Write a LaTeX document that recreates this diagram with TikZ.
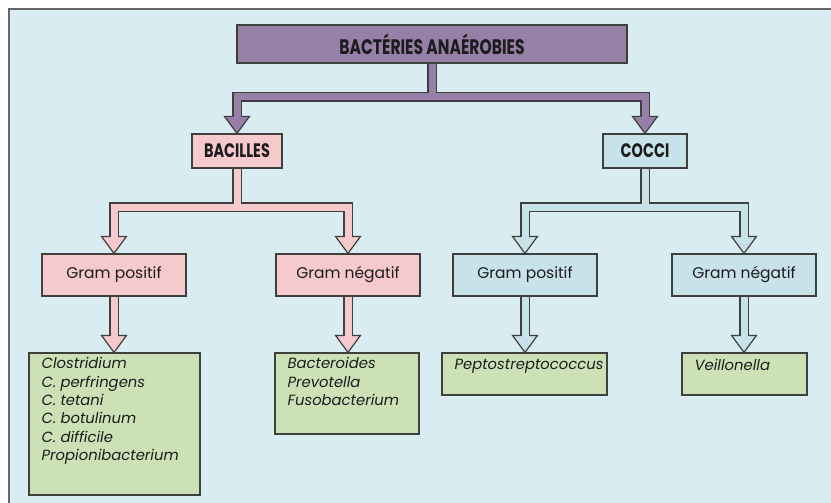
\documentclass[tikz,border=0pt]{standalone}
\usepackage{fontspec}
\setmainfont{Poppins}
\newfontfamily\headfont{Poppins}[FakeStretch=0.74]
\usetikzlibrary{calc}
\definecolor{bgc}{RGB}{216,236,241}
\definecolor{pur}{RGB}{152,127,167}
\definecolor{pnk}{RGB}{246,202,204}
\definecolor{blu}{RGB}{200,226,234}
\definecolor{grn}{RGB}{204,225,182}
\definecolor{edge}{RGB}{62,64,62}
\definecolor{ink}{RGB}{28,28,30}
\pgfdeclarelayer{back}
\pgfsetlayers{back,main}
\newcommand\myhead[2]{%
  \filldraw[fill=#1, draw=edge, line width=1.2pt, line join=miter] (#2) -- ++(-12.5,-17) -- ++(25,0) -- cycle;}
\begin{document}
\begin{tikzpicture}[x=1pt,y=-1pt,
  box/.style={draw=edge, line width=1.2pt, inner sep=0pt, text=ink},
  head/.style={box, font=\fontsize{19.5}{21}\headfont\bfseries},
  gram/.style={box, minimum width=144pt, minimum height=42pt, font=\fontsize{15.5}{18}\selectfont},
  leaf/.style={box, fill=grn},
  leaftext/.style={anchor=north west, align=left, inner sep=0pt, text=ink, font=\fontsize{14.8}{18.3}\selectfont\itshape},
  outl/.style={draw=edge, line width=9.5pt, line join=miter},
  inl/.style={draw=#1, line width=7pt, line join=miter}]
% frame
\useasboundingbox (0,0) rectangle (831,503);
% nodes
\node[head, fill=pur, minimum width=390pt, minimum height=38pt, font=\fontsize{21}{23}\headfont\bfseries] (root) at (432,44) {BACTÉRIES ANAÉROBIES};
\node[head, fill=pnk, minimum width=90pt, minimum height=34pt] (bac) at (237,151) {BACILLES};
\node[head, fill=blu, minimum width=84pt, minimum height=34pt] (coc) at (645,151) {COCCI};
\node[gram, fill=pnk] (bgp) at (114,275) {Gram positif};
\node[gram, fill=pnk] (bgn) at (348,275) {Gram négatif};
\node[gram, fill=blu] (cgp) at (525,275) {Gram positif};
\node[gram, fill=blu] (cgn) at (744,275) {Gram négatif};
\node[leaf, minimum width=171pt, minimum height=142pt] (clo) at (114.5,424) {};
\node[leaftext] (clot) at ($(clo.north west)+(13,5)$) {Clostridium\\C. perfringens\\C. tetani\\C. botulinum\\C. difficile\\Propionibacterium};
\node[leaf, minimum width=144pt, minimum height=81pt] (bcd) at (347,393.5) {};
\node[leaftext] (bcdt) at ($(bcd.north west)+(13,5)$) {Bacteroides\\Prevotella\\Fusobacterium};
\node[leaf, minimum width=165pt, minimum height=42pt] (pep) at (524.5,374) {};
\node[leaftext] (pept) at ($(pep.north west)+(13,7)$) {Peptostreptococcus};
\node[leaf, minimum width=125pt, minimum height=42pt] (vei) at (744.5,374) {};
\node[leaftext] (veit) at ($(vei.north west)+(13,7)$) {Veillonella};
% connectors
\begin{pgfonlayer}{back}
\fill[white] (0,0) rectangle (831,503);
\fill[bgc] (9,9) rectangle (831,503);
\draw[edge!80, line width=1.6pt] (9,503) -- (9,9) -- (831,9);
\coordinate (j0) at (root.south |- 0,97);
\coordinate (j1) at (bac.south |- 0,207);
\coordinate (j2) at (coc.south |- 0,207);
% outlines
\draw[outl] (root.south) -- (j0) -| ($(bac.north)+(0,-17)$);
\draw[outl] (j0) -| ($(coc.north)+(0,-17)$);
\draw[outl] (bac.south) -- (j1) -| ($(bgp.north)+(0,-17)$);
\draw[outl] (j1) -| ($(bgn.north)+(0,-17)$);
\draw[outl] (coc.south) -- (j2) -| ($(cgp.north)+(0,-17)$);
\draw[outl] (j2) -| ($(cgn.north)+(0,-17)$);
\draw[outl] (bgp.south) -- ($(bgp.south |- clo.north)+(0,-17)$);
\draw[outl] (bgn.south) -- ($(bgn.south |- bcd.north)+(0,-17)$);
\draw[outl] (cgp.south) -- ($(cgp.south |- pep.north)+(0,-17)$);
\draw[outl] (cgn.south) -- ($(cgn.south |- vei.north)+(0,-17)$);
% heads
\myhead{pur}{bac.north}
\myhead{pur}{coc.north}
\myhead{pnk}{bgp.north}
\myhead{pnk}{bgn.north}
\myhead{blu}{cgp.north}
\myhead{blu}{cgn.north}
\myhead{pnk}{bgp.south |- clo.north}
\myhead{pnk}{bgn.south |- bcd.north}
\myhead{blu}{cgp.south |- pep.north}
\myhead{blu}{cgn.south |- vei.north}
% interiors
\draw[inl=pur] (root.south) -- (j0) -| ($(bac.north)+(0,-15)$);
\draw[inl=pur] (j0) -| ($(coc.north)+(0,-15)$);
\draw[inl=pnk] (bac.south) -- (j1) -| ($(bgp.north)+(0,-15)$);
\draw[inl=pnk] (j1) -| ($(bgn.north)+(0,-15)$);
\draw[inl=blu] (coc.south) -- (j2) -| ($(cgp.north)+(0,-15)$);
\draw[inl=blu] (j2) -| ($(cgn.north)+(0,-15)$);
\draw[inl=pnk] (bgp.south) -- ($(bgp.south |- clo.north)+(0,-15)$);
\draw[inl=pnk] (bgn.south) -- ($(bgn.south |- bcd.north)+(0,-15)$);
\draw[inl=blu] (cgp.south) -- ($(cgp.south |- pep.north)+(0,-15)$);
\draw[inl=blu] (cgn.south) -- ($(cgn.south |- vei.north)+(0,-15)$);
\end{pgfonlayer}
\end{tikzpicture}
\end{document}
